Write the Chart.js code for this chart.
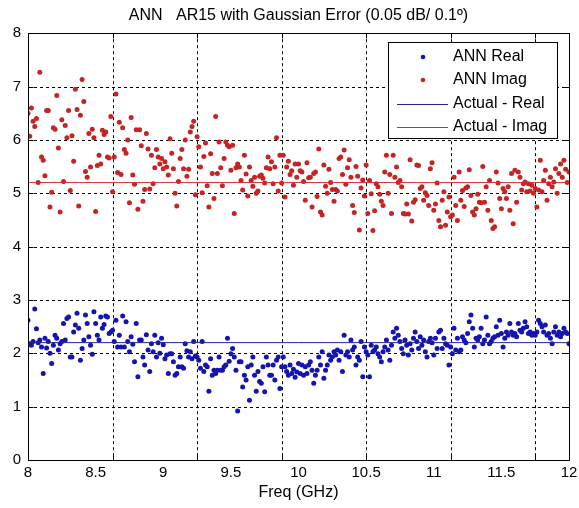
<!DOCTYPE html>
<html>
<head>
<meta charset="utf-8">
<script src="https://cdn.jsdelivr.net/npm/chart.js@4/dist/chart.umd.min.js"></script>
<style>
  html, body { margin: 0; padding: 0; background: #ffffff; }
  #wrap { width: 579px; height: 508px; }
</style>
</head>
<body>
<div id="wrap"><canvas id="annChart" width="579" height="508"></canvas></div>
<script>
// frequency points (GHz)
const freq = [
  8, 8.0125, 8.025, 8.0375, 8.05, 8.0625, 8.075, 8.0875, 8.1, 8.1125, 8.125, 8.1375, 8.15, 8.1625, 8.175, 8.1875, 8.2, 8.2125, 8.225, 8.2375,
  8.25, 8.2625, 8.275, 8.2875, 8.3, 8.3125, 8.325, 8.3375, 8.35, 8.3625, 8.375, 8.3875, 8.4, 8.4125, 8.425, 8.4375, 8.45, 8.4625, 8.475, 8.4875,
  8.5, 8.5125, 8.525, 8.5375, 8.55, 8.5625, 8.575, 8.5875, 8.6, 8.6125, 8.625, 8.6375, 8.65, 8.6625, 8.675, 8.6875, 8.7, 8.7125, 8.725, 8.7375,
  8.75, 8.7625, 8.775, 8.7875, 8.8, 8.8125, 8.825, 8.8375, 8.85, 8.8625, 8.875, 8.8875, 8.9, 8.9125, 8.925, 8.9375, 8.95, 8.9625, 8.975, 8.9875,
  9, 9.0125, 9.025, 9.0375, 9.05, 9.0625, 9.075, 9.0875, 9.1, 9.1125, 9.125, 9.1375, 9.15, 9.1625, 9.175, 9.1875, 9.2, 9.2125, 9.225, 9.2375,
  9.25, 9.2625, 9.275, 9.2875, 9.3, 9.3125, 9.325, 9.3375, 9.35, 9.3625, 9.375, 9.3875, 9.4, 9.4125, 9.425, 9.4375, 9.45, 9.4625, 9.475, 9.4875,
  9.5, 9.5125, 9.525, 9.5375, 9.55, 9.5625, 9.575, 9.5875, 9.6, 9.6125, 9.625, 9.6375, 9.65, 9.6625, 9.675, 9.6875, 9.7, 9.7125, 9.725, 9.7375,
  9.75, 9.7625, 9.775, 9.7875, 9.8, 9.8125, 9.825, 9.8375, 9.85, 9.8625, 9.875, 9.8875, 9.9, 9.9125, 9.925, 9.9375, 9.95, 9.9625, 9.975, 9.9875,
  10, 10.0125, 10.025, 10.0375, 10.05, 10.0625, 10.075, 10.0875, 10.1, 10.1125, 10.125, 10.1375, 10.15, 10.1625, 10.175, 10.1875, 10.2, 10.2125, 10.225, 10.2375,
  10.25, 10.2625, 10.275, 10.2875, 10.3, 10.3125, 10.325, 10.3375, 10.35, 10.3625, 10.375, 10.3875, 10.4, 10.4125, 10.425, 10.4375, 10.45, 10.4625, 10.475, 10.4875,
  10.5, 10.5125, 10.525, 10.5375, 10.55, 10.5625, 10.575, 10.5875, 10.6, 10.6125, 10.625, 10.6375, 10.65, 10.6625, 10.675, 10.6875, 10.7, 10.7125, 10.725, 10.7375,
  10.75, 10.7625, 10.775, 10.7875, 10.8, 10.8125, 10.825, 10.8375, 10.85, 10.8625, 10.875, 10.8875, 10.9, 10.9125, 10.925, 10.9375, 10.95, 10.9625, 10.975, 10.9875,
  11, 11.0125, 11.025, 11.0375, 11.05, 11.0625, 11.075, 11.0875, 11.1, 11.1125, 11.125, 11.1375, 11.15, 11.1625, 11.175, 11.1875, 11.2, 11.2125, 11.225, 11.2375,
  11.25, 11.2625, 11.275, 11.2875, 11.3, 11.3125, 11.325, 11.3375, 11.35, 11.3625, 11.375, 11.3875, 11.4, 11.4125, 11.425, 11.4375, 11.45, 11.4625, 11.475, 11.4875,
  11.5, 11.5125, 11.525, 11.5375, 11.55, 11.5625, 11.575, 11.5875, 11.6, 11.6125, 11.625, 11.6375, 11.65, 11.6625, 11.675, 11.6875, 11.7, 11.7125, 11.725, 11.7375,
  11.75, 11.7625, 11.775, 11.7875, 11.8, 11.8125, 11.825, 11.8375, 11.85, 11.8625, 11.875, 11.8875, 11.9, 11.9125, 11.925, 11.9375, 11.95, 11.9625, 11.975, 11.9875,
  12
];

// ANN estimate, real part
const annReal = [
  2.62, 2.18, 2.15, 2.22, 2.83, 2.46, 2.20, 2.25, 2.12, 1.62, 2.28, 2.10, 2.22, 2.00, 1.81, 2.15, 2.34, 2.28, 2.06, 2.18,
  2.22, 2.56, 2.25, 2.65, 2.68, 1.93, 1.93, 2.40, 2.53, 2.75, 2.47, 1.87, 2.09, 2.25, 2.72, 2.56, 2.31, 2.15, 1.98, 2.78,
  2.56, 2.34, 2.25, 2.68, 2.47, 2.54, 2.70, 2.68, 2.37, 2.40, 2.43, 2.22, 2.62, 2.12, 2.34, 2.12, 2.70, 2.12, 2.59, 2.22,
  2.03, 2.31, 2.17, 1.84, 2.56, 1.56, 2.25, 2.25, 1.93, 1.78, 2.35, 2.06, 1.66, 2.18, 2.03, 2.34, 1.93, 2.20, 2.00, 2.28,
  2.16, 1.90, 1.97, 1.62, 1.99, 1.99, 1.84, 1.59, 1.62, 1.75, 1.93, 1.75, 1.72, 2.18, 2.05, 1.93, 2.03, 1.90, 2.22, 1.95,
  1.93, 1.87, 1.72, 2.22, 1.66, 1.78, 1.75, 1.29, 1.90, 1.59, 1.68, 1.62, 1.68, 1.93, 1.68, 1.68, 1.75, 1.78, 2.28, 1.85,
  1.99, 2.09, 1.93, 1.68, 0.92, 1.84, 1.84, 1.37, 1.59, 1.50, 1.75, 1.12, 1.78, 1.93, 1.59, 1.29, 1.66, 1.47, 1.44, 1.75,
  1.28, 1.93, 1.78, 1.59, 1.59, 1.78, 1.50, 1.87, 1.93, 1.34, 1.75, 1.93, 1.75, 1.66, 1.59, 1.78, 1.62, 1.70, 1.55, 1.65,
  1.81, 1.62, 1.78, 1.59, 1.75, 1.62, 1.78, 1.84, 1.68, 1.44, 1.59, 1.68, 1.93, 1.78, 2.03, 1.53, 1.68, 1.78, 1.97, 1.87,
  1.93, 2.03, 1.97, 2.06, 1.87, 2.03, 1.66, 2.34, 1.97, 2.03, 1.93, 2.25, 2.06, 2.12, 1.78, 1.93, 1.87, 2.22, 1.56, 2.12,
  2.03, 1.97, 1.56, 2.15, 2.03, 2.06, 2.12, 1.99, 1.93, 1.84, 2.03, 2.12, 2.25, 2.06, 1.87, 2.15, 2.40, 2.28, 2.47, 2.34,
  2.22, 2.09, 1.99, 2.25, 2.15, 1.97, 2.18, 2.06, 2.28, 2.40, 2.22, 2.09, 2.31, 2.15, 2.25, 2.03, 1.93, 2.22, 2.28, 2.20,
  1.97, 2.28, 2.09, 2.40, 2.43, 2.09, 2.28, 2.18, 2.15, 1.78, 2.12, 1.99, 2.47, 2.06, 2.28, 2.03, 2.06, 2.31, 2.25, 2.20,
  2.37, 2.59, 2.72, 2.47, 2.12, 2.28, 2.25, 2.31, 2.47, 2.18, 2.25, 2.68, 2.34, 2.18, 2.22, 2.28, 2.31, 2.50, 2.34, 2.62,
  2.37, 2.12, 2.28, 2.40, 2.34, 2.56, 2.40, 2.34, 2.37, 2.31, 2.56, 2.43, 2.40, 2.47, 2.59, 2.50, 2.37, 2.40, 2.34, 2.37,
  2.34, 2.40, 2.62, 2.56, 2.50, 2.40, 2.53, 2.34, 2.37, 2.28, 2.18, 2.40, 2.50, 2.34, 2.40, 2.31, 2.37, 2.47, 2.40, 2.37,
  2.18
];

// ANN estimate, imaginary part
const annImag = [
  6.50, 6.07, 6.60, 6.35, 6.25, 6.40, 5.20, 7.27, 5.68, 5.62, 5.33, 6.55, 6.55, 4.74, 5.02, 6.23, 6.20, 6.83, 5.85, 4.65,
  6.38, 5.22, 6.27, 6.04, 6.55, 5.05, 6.08, 5.60, 6.95, 6.57, 4.76, 6.46, 7.13, 6.72, 5.41, 5.30, 6.12, 5.49, 6.20, 6.04,
  4.66, 5.52, 5.71, 5.55, 6.18, 6.10, 6.15, 5.68, 5.66, 6.44, 5.03, 5.68, 6.86, 5.39, 6.33, 5.35, 6.23, 5.82, 5.75, 6.00,
  4.82, 6.42, 5.34, 5.17, 6.19, 4.70, 6.19, 5.89, 4.85, 5.07, 6.12, 5.83, 5.08, 5.71, 5.18, 5.48, 5.82, 5.68, 5.55, 5.65,
  5.46, 5.59, 5.49, 5.34, 6.02, 5.75, 5.46, 5.00, 4.76, 5.22, 5.65, 5.82, 5.46, 6.00, 5.32, 5.45, 6.15, 6.25, 6.35, 4.97,
  6.06, 5.87, 5.49, 5.01, 5.69, 5.94, 5.14, 4.74, 5.74, 5.37, 4.90, 6.44, 5.37, 5.96, 5.48, 5.14, 5.65, 5.96, 5.90, 5.87,
  5.43, 5.90, 4.62, 5.48, 5.55, 5.49, 5.24, 5.06, 5.71, 5.36, 4.95, 5.49, 5.24, 5.13, 5.30, 5.00, 5.04, 5.32, 5.34, 5.28,
  5.19, 5.48, 5.68, 5.46, 5.59, 5.18, 5.49, 6.04, 5.04, 5.71, 5.19, 5.71, 4.93, 5.49, 5.60, 5.35, 5.42, 5.15, 5.55, 5.30,
  5.55, 5.42, 5.40, 5.22, 4.87, 5.57, 5.29, 5.30, 4.74, 5.37, 5.40, 4.94, 5.83, 4.65, 4.59, 5.53, 5.13, 5.00, 5.45, 5.20,
  5.07, 4.85, 5.07, 5.04, 5.65, 5.68, 5.35, 5.81, 5.17, 5.48, 5.63, 5.30, 4.77, 4.64, 5.50, 5.32, 4.31, 5.10, 5.25, 4.95,
  5.53, 4.62, 5.24, 4.99, 4.30, 4.67, 5.18, 5.12, 4.98, 4.85, 4.77, 5.40, 5.71, 5.00, 5.35, 4.62, 5.71, 5.30, 5.49, 5.20,
  5.24, 5.12, 4.62, 4.61, 4.80, 4.61, 5.63, 4.48, 4.83, 4.88, 5.53, 5.52, 5.09, 5.12, 4.87, 5.01, 4.96, 4.77, 5.46, 5.57,
  4.68, 4.80, 5.19, 4.49, 4.37, 4.87, 5.03, 4.40, 4.65, 4.93, 4.56, 4.59, 5.30, 4.77, 4.49, 5.40, 4.87, 5.05, 4.75, 5.10,
  5.12, 5.44, 4.96, 4.65, 4.59, 4.71, 4.98, 4.83, 4.82, 5.50, 4.83, 5.12, 4.68, 5.24, 4.49, 4.34, 4.37, 5.40, 5.19, 4.90,
  4.71, 5.09, 5.03, 4.90, 5.12, 4.68, 5.37, 4.43, 5.43, 4.83, 5.40, 5.30, 5.06, 5.18, 5.21, 5.03, 5.18, 5.04, 5.15, 5.00,
  5.09, 4.74, 5.06, 5.62, 5.03, 5.24, 5.43, 4.87, 5.18, 5.30, 5.12, 5.21, 5.46, 5.00, 5.37, 5.55, 5.30, 5.62, 5.45, 5.20,
  5.40
];

// actual values (flat reference lines)
const actualReal = 2.2;
const actualImag = 5.2;

// axis ticks
const xTicks = [8, 8.5, 9, 9.5, 10, 10.5, 11, 11.5, 12];
const yTicks = [0, 1, 2, 3, 4, 5, 6, 7, 8];
// the vertical grid lines do not sit on the labels in the original
const xGrid = [8.625, 9.25, 9.875, 10.5, 11.125, 11.75];

const seriesNames = ["ANN Real", "ANN Imag", "Actual - Real", "Actual - Imag"];
const seriesColors = ["#1414b0", "#c42424", "#22229a", "#d03030"];

const FONT = "'Liberation Sans', Arial, sans-serif";

// MATLAB-ish frame, dashed grid and legend box
const matlabFrame = {
    id: "matlabFrame",
    beforeDatasetsDraw(chart) {
        const { ctx, chartArea: a, scales } = chart;
        ctx.save();
        ctx.strokeStyle = "#000";
        ctx.lineWidth = 1;
        ctx.setLineDash([3, 3]);
        ctx.beginPath();
        yTicks.forEach((v) => {
            if (v === 0 || v === 8) return;
            const y = Math.round(scales.y.getPixelForValue(v)) + 0.5;
            ctx.moveTo(a.left, y);
            ctx.lineTo(a.right, y);
        });
        xGrid.forEach((v) => {
            const x = Math.round(scales.x.getPixelForValue(v)) + 0.5;
            ctx.moveTo(x, a.top);
            ctx.lineTo(x, a.bottom);
        });
        ctx.stroke();
        ctx.restore();
    },
    afterDraw(chart) {
        const { ctx, chartArea: a, scales } = chart;
        ctx.save();
        ctx.strokeStyle = "#000";
        ctx.lineWidth = 1;
        ctx.setLineDash([]);
        // box
        const L = Math.round(a.left) + 0.5, R = Math.round(a.right) + 0.5;
        const T = Math.round(a.top) + 0.5, B = Math.round(a.bottom) + 0.5;
        ctx.strokeRect(L, T, R - L, B - T);
        // inward tick marks
        ctx.beginPath();
        xGrid.forEach((v) => {
            const x = Math.round(scales.x.getPixelForValue(v)) + 0.5;
            ctx.moveTo(x, B); ctx.lineTo(x, B - 5);
            ctx.moveTo(x, T); ctx.lineTo(x, T + 5);
        });
        yTicks.forEach((v) => {
            const y = Math.round(scales.y.getPixelForValue(v)) + 0.5;
            ctx.moveTo(L, y); ctx.lineTo(L + 5, y);
            ctx.moveTo(R, y); ctx.lineTo(R - 5, y);
        });
        ctx.stroke();

        // legend
        const bx = 388.5, by = 42.5, bw = 169, bh = 96;
        ctx.fillStyle = "#fff";
        ctx.fillRect(bx, by, bw, bh);
        ctx.strokeRect(bx, by, bw, bh);
        const rows = [57, 80, 104, 127];
        ctx.font = "16px " + FONT;
        ctx.textBaseline = "middle";
        ctx.textAlign = "left";
        rows.forEach((y, i) => {
            ctx.save();
            if (i < 2) {
                ctx.fillStyle = seriesColors[i];
                ctx.beginPath();
                ctx.arc(423, y, 2.3, 0, Math.PI * 2);
                ctx.fill();
            } else {
                ctx.strokeStyle = seriesColors[i];
                ctx.lineWidth = 1;
                ctx.beginPath();
                ctx.moveTo(397, y + 0.5);
                ctx.lineTo(448, y + 0.5);
                ctx.stroke();
            }
            ctx.restore();
            ctx.fillStyle = "#000";
            ctx.fillText(seriesNames[i], 453, y);
        });
        ctx.restore();
    },
};

const ctx = document.getElementById("annChart").getContext("2d");
new Chart(ctx, {
    type: "scatter",
    data: {
        datasets: [
            {
                label: seriesNames[0],
                data: freq.map((f, i) => ({ x: f, y: annReal[i] })),
                backgroundColor: seriesColors[0],
                borderWidth: 0,
                pointRadius: 2.5,
                order: 3,
            },
            {
                label: seriesNames[1],
                data: freq.map((f, i) => ({ x: f, y: annImag[i] })),
                backgroundColor: seriesColors[1],
                borderWidth: 0,
                pointRadius: 2.5,
                order: 3,
            },
            {
                type: "line",
                label: seriesNames[2],
                data: [{ x: freq[0], y: actualReal }, { x: freq[freq.length - 1], y: actualReal }],
                borderColor: seriesColors[2],
                borderWidth: 1,
                pointRadius: 0,
                order: 1,
            },
            {
                type: "line",
                label: seriesNames[3],
                data: [{ x: freq[0], y: actualImag }, { x: freq[freq.length - 1], y: actualImag }],
                borderColor: seriesColors[3],
                borderWidth: 1,
                pointRadius: 0,
                order: 1,
            },
        ],
    },
    options: {
        responsive: false,
        animation: false,
        devicePixelRatio: 1,
        layout: { padding: { left: 0, right: 10, top: 0, bottom: 0 } },
        plugins: {
            legend: { display: false },
            tooltip: { enabled: false },
            title: {
                display: true,
                fullSize: false,
                text: "ANN   AR15 with Gaussian Error (0.05 dB/ 0.1º)",
                color: "#000",
                font: { family: FONT, size: 16, weight: "normal" },
                padding: { top: 6, bottom: 8 },
            },
        },
        scales: {
            x: {
                type: "linear",
                min: 8,
                max: 12,
                afterBuildTicks: (scale) => { scale.ticks = xTicks.map((v) => ({ value: v })); },
                afterFit: (scale) => {
                    scale.height = 48;
                    scale.paddingLeft = 0;
                    scale.paddingRight = 0;
                },
                grid: { display: false, drawTicks: false },
                border: { display: false },
                ticks: {
                    color: "#000",
                    padding: 4,
                    maxRotation: 0,
                    font: { family: FONT, size: 15 },
                    callback: (v) => String(v),
                },
                title: {
                    display: true,
                    text: "Freq (GHz)",
                    color: "#000",
                    font: { family: FONT, size: 16 },
                    padding: { top: 0, bottom: 6 },
                },
            },
            y: {
                min: 0,
                max: 8,
                afterBuildTicks: (scale) => { scale.ticks = yTicks.map((v) => ({ value: v })); },
                afterFit: (scale) => {
                    scale.width = 28;
                    scale.paddingTop = 0;
                    scale.paddingBottom = 0;
                },
                grid: { display: false, drawTicks: false },
                border: { display: false },
                ticks: {
                    color: "#000",
                    padding: 7,
                    font: { family: FONT, size: 15 },
                    callback: (v) => String(v),
                },
            },
        },
    },
    plugins: [matlabFrame],
});
</script>
</body>
</html>
